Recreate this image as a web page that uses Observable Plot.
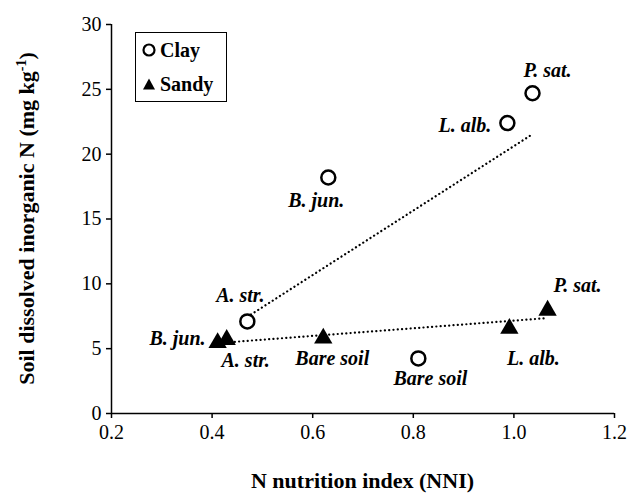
<!DOCTYPE html>
<html>
<head>
<meta charset="utf-8">
<script src="https://cdn.jsdelivr.net/npm/d3@7"></script>
<script src="https://cdn.jsdelivr.net/npm/@observablehq/plot@0.6"></script>
<style>
  html, body { margin: 0; padding: 0; background: #fff; }
  #wrap { position: relative; width: 630px; height: 497px; }
  #legend {
    position: absolute; left: 135px; top: 32px; width: 92px; height: 70px;
    border: 1.5px solid #000; box-sizing: border-box; background: #fff;
    font-family: "Liberation Serif", serif; font-weight: bold; font-size: 20px;
  }
  #legend .row { display: flex; align-items: center; height: 34px; padding-left: 5px; }
  #legend svg { margin-right: 3px; }
</style>
</head>
<body>
<div id="wrap"></div>
<script>
// ---- data ----
const clayNames = ["A. str.", "B. jun.", "Bare soil", "L. alb.", "P. sat."];
const clayNNI   = [0.470, 0.631, 0.810, 0.987, 1.037];
const clayN     = [7.1, 18.2, 4.25, 22.4, 24.7];

const sandyNames = ["B. jun.", "A. str.", "Bare soil", "L. alb.", "P. sat."];
const sandyNNI   = [0.411, 0.429, 0.621, 0.991, 1.067];
const sandyN     = [5.45, 5.7, 5.8, 6.55, 7.95];

const xTicks = [0.2, 0.4, 0.6, 0.8, 1.0, 1.2];
const yTicks = [0, 5, 10, 15, 20, 25, 30];

// ---- label placement (layout only) ----
const clayLabelOffset = {
  "A. str.":   {dx: -7,  dy: -26, anchor: "middle"},
  "B. jun.":   {dx: -12, dy: 23,  anchor: "middle"},
  "Bare soil": {dx: 12,  dy: 20,  anchor: "middle"},
  "L. alb.":   {dx: -16, dy: 3,   anchor: "end"},
  "P. sat.":   {dx: 15,  dy: -23, anchor: "middle"}
};
const sandyLabelOffset = {
  "B. jun.":   {dx: -12, dy: -4,  anchor: "end"},
  "A. str.":   {dx: 19,  dy: 21,  anchor: "middle"},
  "Bare soil": {dx: 9,   dy: 20,  anchor: "middle"},
  "L. alb.":   {dx: 24,  dy: 30,  anchor: "middle"},
  "P. sat.":   {dx: 30,  dy: -25, anchor: "middle"}
};

const clay = clayNames.map((name, i) => ({name, x: clayNNI[i], y: clayN[i], ...clayLabelOffset[name]}));
const sandy = sandyNames.map((name, i) => ({name, x: sandyNNI[i], y: sandyN[i], ...sandyLabelOffset[name]}));

const FONT = "Liberation Serif";

const labelMarks = (data) => data.map(d => Plot.text([d], {
  x: "x", y: "y", text: "name", dx: d.dx, dy: d.dy, textAnchor: d.anchor,
  fontFamily: FONT, fontSize: 20, fontWeight: "bold", fontStyle: "italic", fill: "#000"
}));

const chart = Plot.plot({
  width: 630,
  height: 497,
  marginLeft: 111,
  marginRight: 16,
  marginTop: 24,
  marginBottom: 84,
  style: { color: "#000", background: "#fff", fontFamily: FONT },
  x: { domain: [0.2, 1.2], ticks: xTicks, tickFormat: d3.format(".1f"), label: null },
  y: { domain: [0, 30], ticks: yTicks, label: null },
  marks: [
    Plot.axisX({ticks: xTicks, tickFormat: d3.format(".1f"), tickSize: 5, tickPadding: 6, strokeWidth: 1.5, fontFamily: FONT, fontSize: 20, label: null}),
    Plot.axisY({ticks: yTicks, tickSize: 5, tickPadding: 5, strokeWidth: 1.5, fontFamily: FONT, fontSize: 20, label: null}),
    Plot.ruleY([0], {strokeWidth: 1.5}),
    Plot.ruleX([0.2], {strokeWidth: 1.5}),
    Plot.linearRegressionY(clay, {x: "x", y: "y", ci: 0, stroke: "#000", strokeWidth: 2.2, strokeDasharray: "0.1,4.2", strokeLinecap: "round"}),
    Plot.linearRegressionY(sandy, {x: "x", y: "y", ci: 0, stroke: "#000", strokeWidth: 2.2, strokeDasharray: "0.1,4.2", strokeLinecap: "round"}),
    Plot.dot(clay, {x: "x", y: "y", r: 7, stroke: "#000", strokeWidth: 2.5, fill: "#fff"}),
    Plot.dot(sandy, {x: "x", y: "y", r: 6.8, symbol: "triangle", fill: "#000", stroke: "none"}),
    ...labelMarks(clay),
    ...labelMarks(sandy)
  ]
});

chart.setAttribute("font-family", FONT);

// axis titles
const svg = d3.select(chart);
svg.append("text")
  .attr("x", (111 + 614) / 2).attr("y", 488)
  .attr("text-anchor", "middle")
  .attr("font-family", FONT).attr("font-weight", "bold").attr("font-size", 22)
  .text("N nutrition index (NNI)");
const yt = svg.append("text")
  .attr("transform", `translate(34, ${(24 + 413) / 2}) rotate(-90)`)
  .attr("text-anchor", "middle")
  .attr("font-family", FONT).attr("font-weight", "bold").attr("font-size", 22);
yt.append("tspan").text("Soil dissolved inorganic N (mg kg");
yt.append("tspan").attr("dy", -8).attr("font-size", 14).text("-1");
yt.append("tspan").attr("dy", 8).text(")");

document.getElementById("wrap").appendChild(chart);

// legend
const legend = document.createElement("div");
legend.id = "legend";
legend.innerHTML = `
  <div class="row"><svg width="16" height="16"><circle cx="8" cy="8" r="5.5" fill="#fff" stroke="#000" stroke-width="2.2"/></svg><span>Clay</span></div>
  <div class="row"><svg width="16" height="16"><path d="M8,2.5 L14,13.5 L2,13.5 Z" fill="#000"/></svg><span>Sandy</span></div>`;
document.getElementById("wrap").appendChild(legend);
</script>
</body>
</html>
